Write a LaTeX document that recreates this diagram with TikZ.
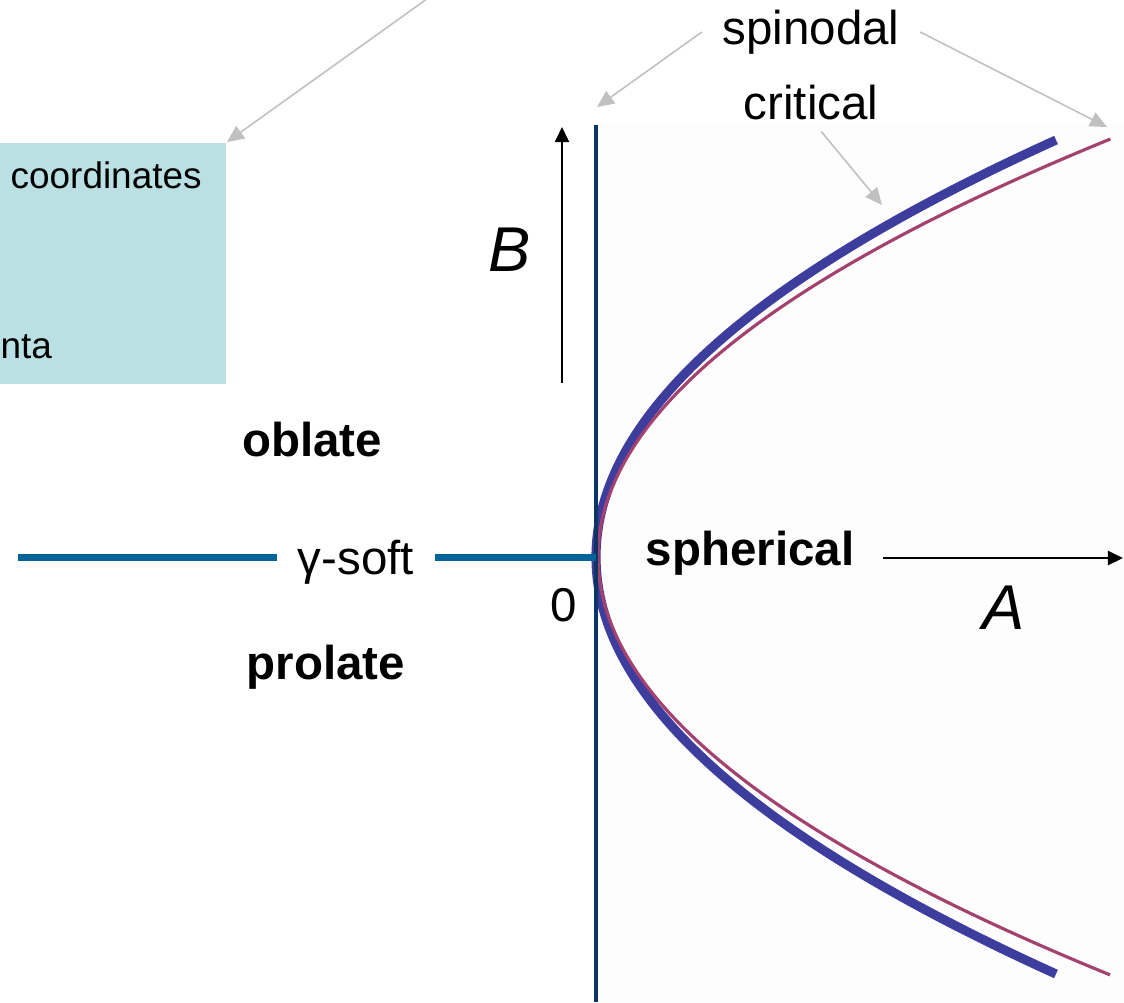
\documentclass[tikz,border=0pt]{standalone}
\usepackage{fontspec}
\setmainfont{Liberation Sans}
\usetikzlibrary{arrows.meta,positioning}

\definecolor{boxcyan}{HTML}{BAE0E3}
\definecolor{softblue}{HTML}{00649A}
\definecolor{axisnavy}{HTML}{0B3563}
\definecolor{spincol}{HTML}{3D3D9E}
\definecolor{critcol}{HTML}{A3426F}
\definecolor{pointer}{HTML}{C0C0C0}

\begin{document}
\begin{tikzpicture}[x=0.01cm, y=-0.01cm, >={Triangle[length=4.3pt,width=4pt]},
  lbl/.style={font=\fontsize{13.5}{16}\selectfont, inner sep=0pt},
  boldlbl/.style={font=\fontsize{13.5}{16}\selectfont\bfseries, inner sep=0pt},
  axislbl/.style={font=\fontsize{18}{21}\selectfont\itshape, inner sep=0pt},
  boxtext/.style={font=\fontsize{10.5}{12}\selectfont, inner sep=0pt, anchor=west},
  ptr/.style={draw=pointer, line width=0.45pt, -{Triangle[length=4.8pt,width=4.3pt]}, pointer}]
\useasboundingbox (0,0) rectangle (1124,1002);
\fill[black!0.7] (596,125) rectangle (1124,1002);

\node[fill=boxcyan, inner sep=0pt, minimum width=85pt, minimum height=68.6pt,
  anchor=north east] (cbox) at (227,142) {};
\node[boxtext] (coord) at (10,175) {coordinates};
\node[boxtext] (nta) at (0,347) {nta};

\coordinate (o) at (596,557);
\coordinate (vtop) at (596,125);
\coordinate (vbot) at (596,1002);
\coordinate (gleft) at (18,557);

\draw[spincol, line width=2.6pt] plot[domain=-4.17:4.17, samples=90, smooth]
  ({596+100*\x*\x/3.78},{557+100*\x});
\draw[critcol, line width=0.9pt] plot[domain=-4.18:4.18, samples=90, smooth]
  ({598+100*\x*\x/3.41},{557+100*\x});

\draw[axisnavy, line width=1.15pt] (vtop) -- (vbot);

\node[lbl, inner sep=5.7pt] (soft) at (356,562) {γ-soft};
\draw[softblue, line width=2pt] (gleft) -- (soft.west |- o);
\draw[softblue, line width=2pt] (soft.east |- o) -- (o);

\node[boldlbl] (oblate) at (312,440) {oblate};
\node[boldlbl] (prolate) at (326,667) {prolate};
\node[boldlbl] (spherical) at (750,553) {spherical};
\node[lbl] (zero) at (564,605) {0};

\coordinate (b0) at (562,383);
\coordinate (b1) at (562,127);
\draw[->, line width=0.6pt] (b0) -- (b1);
\node[axislbl] (B) at (510,250) {B};

\coordinate (a0) at (883,558);
\coordinate (a1) at (1123,558);
\draw[->, line width=0.6pt] (a0) -- (a1);
\node[axislbl] (A) at (1004,608) {A};

\node[lbl, inner sep=5.7pt] (spinodal) at (811,32) {spinodal};
\node[lbl, inner sep=3pt] (critical) at (811,103) {critical};

\coordinate (spL) at (597,107);
\coordinate (spR) at (1107,127);
\coordinate (critTip) at (882,205);
\coordinate (ptrTop) at (431,-4);

\draw[ptr] (spinodal.west) -- (spL);
\draw[ptr] (spinodal.east) -- (spR);
\draw[ptr] (critical.-70) -- (critTip);
\draw[ptr] (ptrTop) -- (cbox.north east);
\end{tikzpicture}
\end{document}
